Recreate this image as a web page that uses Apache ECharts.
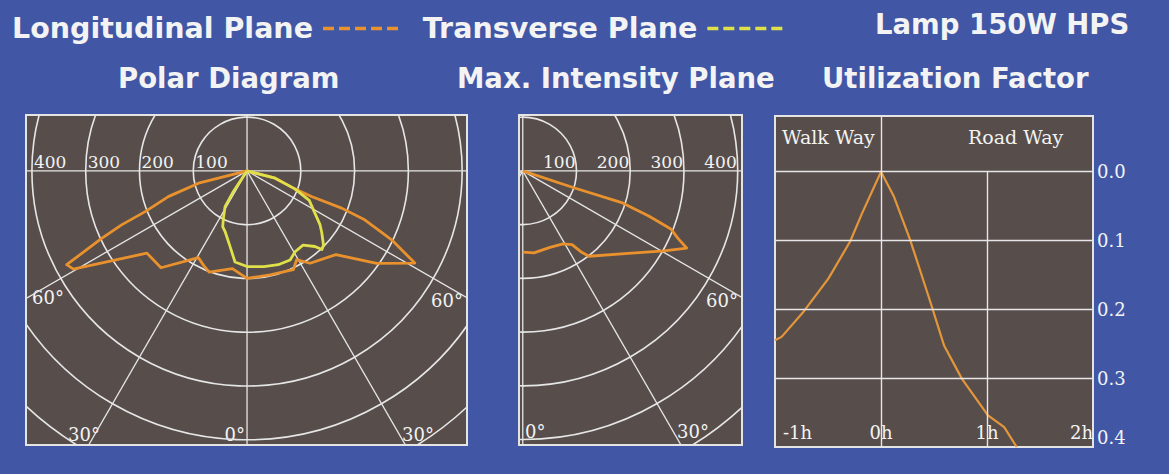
<!DOCTYPE html>
<html>
<head>
<meta charset="utf-8">
<title>Lamp 150W HPS</title>
<script src="https://cdn.jsdelivr.net/npm/echarts@6/dist/echarts.min.js"></script>
<style>
  html, body { margin: 0; padding: 0; background: #4157a6; }
  #chart { width: 1169px; height: 474px; }
</style>
</head>
<body>
<div id="chart"></div>
<script>
// ---- Photometric data (angle from nadir in degrees, intensity in cd/klm) ----
// Longitudinal plane, traced from the left side through nadir to the right side
const longAngles    = [-90, -75.8, -71.9, -68.2, -66.7, -65.1, -62.5, -60.5, -50.6, -41.6, -29.3, -24.4, -20.5, -8.5, 0, 12.5, 25.1, 29.2, 34.3, 46.7, 54.5, 61.2, 64.5, 67.4, 68.5, 68.3, 69.4, 75.4, 90];
const longIntensity = [0, 93, 154, 204, 254, 298, 378, 371, 241, 241, 185, 194, 201, 184, 200, 198, 203, 189, 208, 227, 296, 356, 298, 237, 189, 129, 95, 54, 0];

// Transverse plane
const transAngles    = [-34, -33.5, -31.6, -26.6, -23.6, -19.9, -12.7, -7.5, 0, 10, 18.4, 25.8, 30.7, 37, 41.9, 43.6, 45.9, 50.5, 53.5, 58.5, 64.6, 69.4, 75.4, 90];
const transIntensity = [0, 46, 78, 98, 113, 120, 144, 171, 178, 181, 184, 184, 175, 173, 189, 202, 198, 180, 169, 147, 128, 95, 54, 0];

// Plane of maximum intensity
const maxAngles    = [90, 71.7, 72.2, 70.3, 68.6, 66.5, 64.8, 60.5, 53, 37.8, 35.9, 33.8, 28.9, 19.6, 7.8, 0];
const maxIntensity = [0, 100, 195, 249, 296, 315, 337, 302, 254, 201, 187, 165, 155, 151, 154, 151];

// Utilization factor versus distance (in mounting heights h)
const ufDistance = [-1.0, -0.938, -0.739, -0.495, -0.29, -0.183, 0, 0.122, 0.275, 0.459, 0.596, 0.764, 1.009, 1.162, 1.28];
const ufValue    = [0.245, 0.240, 0.205, 0.155, 0.101, 0.062, 0, 0.036, 0.099, 0.186, 0.253, 0.301, 0.354, 0.371, 0.40];

// Grid and tick values
const ringValues       = [100, 200, 300, 400, 500, 600];
const spokeAngles      = [-90, -60, -30, 0, 30, 60, 90, 180];
const radiusTickLabels = [100, 200, 300, 400];
const ufTicks          = [0, 0.1, 0.2, 0.3, 0.4];
const distanceTicks    = [-1, 0, 1, 2];

// ---- Styling ----
const BG = '#4157a6';
const PANEL = '#574e4c';
const FRAME = '#e4e4e4';
const GRIDLINE = '#e6e6e6';
const TEXT = '#f3f3f3';
const ORANGE = '#e9912c';
const YELLOW = '#dfe04a';
const SERIF = '"DejaVu Serif", "Liberation Serif", serif';
const SANS = '"DejaVu Sans", "Open Sans", sans-serif';
const SPOKE_LEN = 1200;

// polar (angle from nadir, intensity) -> plane coordinates, y pointing down
function toXY(angles, values) {
  return angles.map((a, i) => {
    const r = a * Math.PI / 180;
    return [values[i] * Math.sin(r), values[i] * Math.cos(r)];
  });
}

function ringItem(params, api) {
  const c = api.coord([0, 0]);
  const r = api.size([api.value(0), 0])[0];
  return { type: 'circle', silent: true,
    shape: { cx: c[0], cy: c[1], r: r },
    style: { fill: 'none', stroke: GRIDLINE, lineWidth: 1.6 } };
}

function spokeItem(params, api) {
  const a = api.value(0) * Math.PI / 180;
  const c = api.coord([0, 0]);
  const e = api.coord([SPOKE_LEN * Math.sin(a), SPOKE_LEN * Math.cos(a)]);
  return { type: 'line', silent: true,
    shape: { x1: c[0], y1: c[1], x2: e[0], y2: e[1] },
    style: { stroke: GRIDLINE, lineWidth: 1.3 } };
}

// intensity labels sitting just above the horizontal axis
function tickLabelItem(side) {
  return function (params, api) {
    const v = api.value(0);
    const p = api.coord([side * v, 0]);
    return { type: 'text', silent: true,
      x: p[0] + (side < 0 ? 2 : -1), y: p[1] - 9,
      style: { text: String(v), fill: TEXT, fontFamily: SERIF, fontSize: 17,
        align: side < 0 ? 'left' : 'right', verticalAlign: 'middle' } };
  };
}

function polarPanel(idx, side) {
  return [
    { type: 'custom', name: 'rings' + idx, xAxisIndex: idx, yAxisIndex: idx, clip: true, silent: true, z: 1,
      renderItem: ringItem, data: ringValues.map(v => [v, 0]) },
    { type: 'custom', name: 'spokes' + idx, xAxisIndex: idx, yAxisIndex: idx, clip: true, silent: true, z: 1,
      renderItem: spokeItem, data: spokeAngles.map(a => [a, 0]) },
    { type: 'custom', name: 'ticks' + idx, xAxisIndex: idx, yAxisIndex: idx, clip: false, silent: true, z: 2,
      renderItem: tickLabelItem(side), data: radiusTickLabels.map(v => [v, 0]) }
  ];
}

function curve(name, idx, pts, color, width) {
  return { type: 'line', name: name, xAxisIndex: idx, yAxisIndex: idx, data: pts,
    symbol: 'none', showSymbol: false, silent: true, z: 3,
    itemStyle: { color: color },
    lineStyle: { color: color, width: width, join: 'round' } };
}

function hiddenAxis(idx, min, max, inverse) {
  return { gridIndex: idx, type: 'value', min: min, max: max, inverse: !!inverse, show: false };
}

function label(text, x, y, align, font, size, weight) {
  return { type: 'text', x: x, y: y, silent: true,
    style: { text: text, fill: TEXT, fontFamily: font, fontSize: size, fontWeight: weight || 'normal',
      align: align, verticalAlign: 'middle' } };
}

const panelGrid = { show: true, backgroundColor: PANEL, borderColor: FRAME, borderWidth: 2 };

const chart = echarts.init(document.getElementById('chart'), null, { renderer: 'svg' });

chart.setOption({
  backgroundColor: BG,
  animation: false,
  legend: {
    data: ['Longitudinal Plane', 'Transverse Plane'],
    left: 12, top: 14, padding: 0, align: 'right', selectedMode: false,
    itemWidth: 80, itemHeight: 12, itemGap: 23,
    textStyle: { color: TEXT, fontFamily: SANS, fontWeight: 'bold', fontSize: 28.5 },
    itemStyle: { opacity: 0 },
    lineStyle: { type: [11, 5], dashOffset: 11, width: 3.6, cap: 'butt' }
  },
  grid: [
    Object.assign({ left: 26, top: 115, width: 441, height: 330 }, panelGrid),
    Object.assign({ left: 519, top: 115, width: 223, height: 330 }, panelGrid),
    Object.assign({ left: 775, top: 116, width: 318, height: 331 }, panelGrid)
  ],
  xAxis: [
    hiddenAxis(0, -411, 409),
    hiddenAxis(1, -7, 408),
    { gridIndex: 2, type: 'value', min: -1, max: 2, interval: 1,
      axisLine: { show: false }, axisTick: { show: false }, splitLine: { show: false },
      axisLabel: { customValues: distanceTicks, inside: true, margin: 6,
        formatter: v => v <= -1 ? '{first|' + v + 'h}' : v + 'h',
        color: TEXT, fontFamily: SERIF, fontSize: 18,
        rich: { first: { color: TEXT, fontFamily: SERIF, fontSize: 18, padding: [0, 0, 0, 8] } },
        alignMinLabel: 'left', alignMaxLabel: 'right' } }
  ],
  yAxis: [
    hiddenAxis(0, -104, 510, true),
    hiddenAxis(1, -104, 510, true),
    { gridIndex: 2, type: 'value', inverse: true, min: -0.081, max: 0.4, position: 'right',
      axisLine: { show: false }, axisTick: { show: false }, splitLine: { show: false },
      axisLabel: { customValues: ufTicks, margin: 4, color: TEXT, fontFamily: SERIF, fontSize: 18,
        formatter: v => v >= 0.4 ? '{last|' + v.toFixed(1) + '}' : v.toFixed(1),
        rich: { last: { color: TEXT, fontFamily: SERIF, fontSize: 18, padding: [0, 0, 20, 0] } } } }
  ],
  series: [
    ...polarPanel(0, -1),
    curve('Longitudinal Plane', 0, toXY(longAngles, longIntensity), ORANGE, 2.8),
    curve('Transverse Plane', 0, toXY(transAngles, transIntensity), YELLOW, 2.8),
    ...polarPanel(1, 1),
    curve('Max. Intensity Plane', 1, toXY(maxAngles, maxIntensity), ORANGE, 2.8),
    { type: 'line', name: 'uf-grid', xAxisIndex: 2, yAxisIndex: 2, data: [], silent: true, z: 1,
      markLine: { silent: true, symbol: ['none', 'none'], label: { show: false },
        emphasis: { disabled: true },
        lineStyle: { color: GRIDLINE, width: 1.4, type: 'solid' },
        data: [
          ...ufTicks.filter(v => v < 0.4).map(v => ({ yAxis: v })),
          { xAxis: 0 },
          [{ coord: [1, 0] }, { coord: [1, 0.4] }]
        ] } },
    curve('Utilization Factor', 2, ufDistance.map((d, i) => [d, ufValue[i]]), '#e3963a', 2.2)
  ],
  graphic: [
    label('Lamp 150W HPS', 875, 24, 'left', SANS, 27.5, 'bold'),
    label('Polar Diagram', 118, 78, 'left', SANS, 27.5, 'bold'),
    label('Max. Intensity Plane', 457, 78, 'left', SANS, 27.5, 'bold'),
    label('Utilization Factor', 822, 78, 'left', SANS, 27.5, 'bold'),
    // angle labels of the polar grids
    label('60°', 32, 297, 'left', SERIF, 18),
    label('60°', 463, 300, 'right', SERIF, 18),
    label('30°', 100, 434, 'right', SERIF, 18),
    label('0°', 245, 434, 'right', SERIF, 18),
    label('30°', 402, 434, 'left', SERIF, 18),
    label('60°', 738, 300, 'right', SERIF, 18),
    label('30°', 677, 431, 'left', SERIF, 18),
    label('0°', 525, 431, 'left', SERIF, 18),
    // zones of the utilization chart
    label('Walk Way', 782, 137, 'left', SERIF, 19),
    label('Road Way', 968, 137, 'left', SERIF, 19)
  ]
});
</script>
</body>
</html>
